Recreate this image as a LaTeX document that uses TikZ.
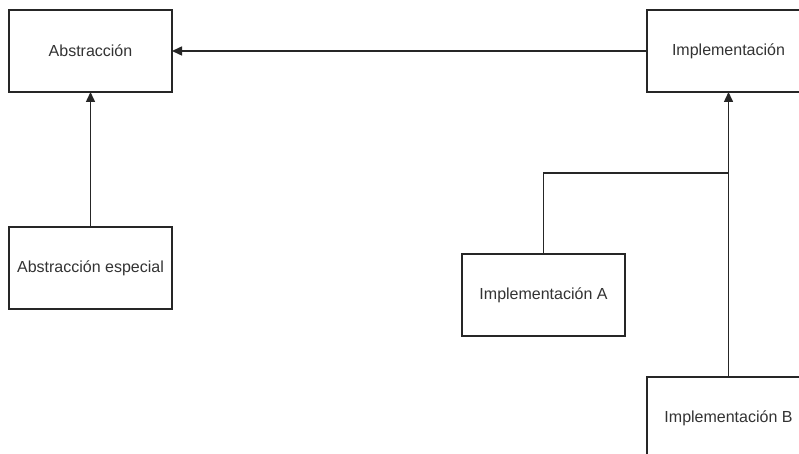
\documentclass[tikz,border=0pt]{standalone}
\usepackage{fontspec}
\setmainfont{Liberation Sans}
\usetikzlibrary{arrows.meta}
\begin{document}
\begin{tikzpicture}[x=1pt,y=-1pt,
  box/.style={draw=black!85, line width=1.5pt, rectangle, minimum width=163pt,
    minimum height=82pt, inner sep=0pt, outer sep=0pt, text=black!80,
    font=\fontsize{16}{19}\selectfont},
  link/.style={draw=black!85, line width=1.5pt},
  arr/.style={link, -{Triangle[length=10pt,width=9pt]}}]
  \useasboundingbox (0,0) rectangle (799,454);
  \clip (0,0) rectangle (799,454);
  \fill[white] (0,0) rectangle (799,454);

  % classes
  \node[box] (abs)  at (90.5,51)   {Abstracción};
  \node[box] (imp)  at (728.5,51)  {Implementación};
  \node[box] (absE) at (90.5,268)  {Abstracción especial};
  \node[box] (impA) at (543.5,295) {Implementación A};
  \node[box] (impB) at (728.5,418) {Implementación B};

  % bridge reference
  \draw[arr] (imp.west) -- (abs.east);

  % refined abstraction
  \draw[arr] (absE.north) -- (abs.south);

  % concrete implementors
  \coordinate (join) at (728.5,173);
  \draw[arr] (impB.north) -- (imp.south);
  \draw[link] (impA.north) |- (join);
\end{tikzpicture}
\end{document}
